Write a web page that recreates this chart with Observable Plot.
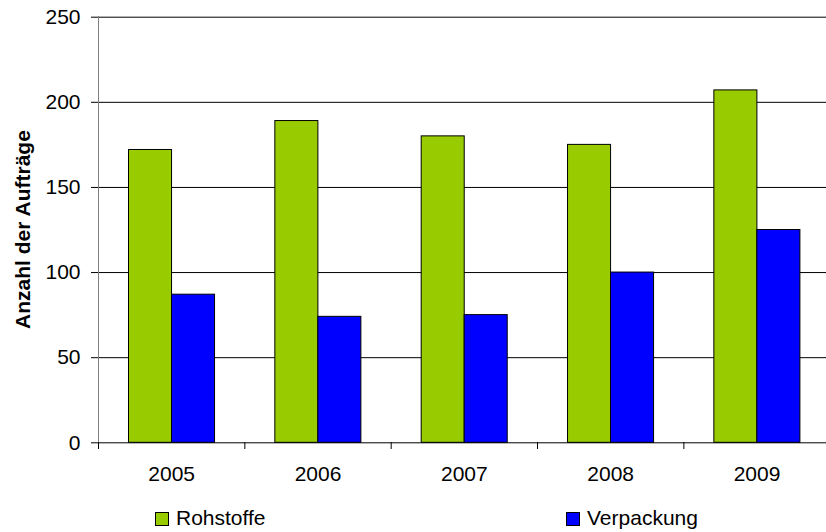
<!DOCTYPE html>
<html>
<head>
<meta charset="utf-8">
<script src="https://cdn.jsdelivr.net/npm/d3@7"></script>
<script src="https://cdn.jsdelivr.net/npm/@observablehq/plot@0.6"></script>
<style>
  html, body { margin: 0; padding: 0; background: #fff; }
  #chart { width: 826px; height: 532px; overflow: hidden; font-family: "Liberation Sans", Arial, sans-serif; }
  #chart svg { display: block; }
</style>
</head>
<body>
<div id="chart"></div>
<script>
// Jahre und Anzahl der Aufträge je Bereich
const years = ["2005", "2006", "2007", "2008", "2009"];
const rohstoffe = [172, 189, 180, 175, 207];
const verpackung = [87, 74, 75, 100, 125];
const yTicks = [0, 50, 100, 150, 200, 250];
const seriesNames = ["Rohstoffe", "Verpackung"];
const seriesColors = ["#99cc00", "#0000ff"];

const rows = years.map((year, i) => ({ i, year, rohstoffe: rohstoffe[i], verpackung: verpackung[i] }));
const font = "Liberation Sans, Arial, sans-serif";

const chart = Plot.plot({
  width: 826,
  height: 500,
  marginLeft: 98,
  marginRight: 0,
  marginTop: 16,
  marginBottom: 58,
  style: { fontFamily: font, fontSize: "21px", color: "#000", background: "#fff" },
  x: { type: "linear", domain: [0, years.length], range: [98, 829.7] },
  y: { domain: [0, 250], range: [442.3, 16.7] },
  marks: [
    // Gitternetzlinien
    Plot.ruleY(yTicks.filter(t => t > 0), { stroke: "#000", strokeWidth: 1 }),
    // Balken je Jahr
    Plot.rectY(rows, { x1: "i", x2: d => d.i + 1, y: "rohstoffe", fill: seriesColors[0], stroke: "#000", strokeWidth: 1, insetLeft: 30.5, insetRight: 72.8 }),
    Plot.rectY(rows, { x1: "i", x2: d => d.i + 1, y: "verpackung", fill: seriesColors[1], stroke: "#000", strokeWidth: 1, insetLeft: 73.5, insetRight: 29.8 }),
    // Achsen
    Plot.ruleX([0], { stroke: "#808080", strokeWidth: 1 }),
    Plot.ruleY([0], { stroke: "#000", strokeWidth: 1 }),
    Plot.axisY({ ticks: yTicks, tickSize: 7, tickPadding: 11, label: null, stroke: "#000" }),
    Plot.axisX({ ticks: years.map((_, i) => i), tickFormat: () => "", tickSize: 7, label: null, stroke: "#000" }),
    Plot.axisX({ ticks: years.map((_, i) => i + 0.5), tickFormat: v => years[Math.floor(v)], tickSize: 0, tickPadding: 24, label: null }),
    // Achsentitel
    Plot.text(["Anzahl der Aufträge"], { frameAnchor: "left", textAnchor: "middle", rotate: -90, dx: -75, fontWeight: "bold", fontSize: 21, fill: "#000" })
  ]
});

const host = document.getElementById("chart");
host.appendChild(chart);

// Legende unterhalb des Diagramms
const legend = d3.create("svg").attr("width", 826).attr("height", 32);
const legendX = [155, 566];
seriesNames.forEach((name, k) => {
  const g = legend.append("g").attr("transform", `translate(${legendX[k]},0)`);
  g.append("rect").attr("x", 0.5).attr("y", 12.5).attr("width", 13).attr("height", 13)
    .attr("fill", seriesColors[k]).attr("stroke", "#000");
  g.append("text").attr("x", 21).attr("y", 25).attr("font-family", font).attr("font-size", 21)
    .attr("fill", "#000").text(name);
});
host.appendChild(legend.node());
</script>
</body>
</html>
